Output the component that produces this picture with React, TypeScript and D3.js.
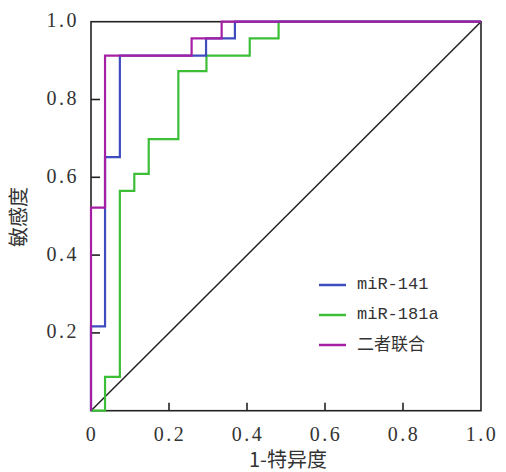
import React, { useRef, useEffect } from "react";
import * as d3 from "d3";

// ROC corner points (1-specificity, sensitivity); drawn with curveStepBefore
const fpr141 = [0, 0.036, 0.074, 0.295, 0.369, 1];
const tpr141 = [0, 0.217, 0.652, 0.913, 0.957, 1];

const fpr181a = [0, 0.036, 0.074, 0.111, 0.148, 0.224, 0.296, 0.407, 0.481, 1];
const tpr181a = [0, 0, 0.087, 0.565, 0.609, 0.698, 0.873, 0.913, 0.957, 1];

const fprCombined = [0, 0.036, 0.258, 0.335, 1];
const tprCombined = [0, 0.522, 0.913, 0.957, 1];

const seriesNames = ["miR-141", "miR-181a", "二者联合"];
const seriesColors = ["#3f4cc0", "#3cbf37", "#a51fa5"];

const tickValues = [0, 0.2, 0.4, 0.6, 0.8, 1.0];
const xTickLabels = ["0", "0.2", "0.4", "0.6", "0.8", "1.0"];
const yTickLabels = ["", "0.2", "0.4", "0.6", "0.8", "1.0"];

export default function App() {
  const ref = useRef<SVGSVGElement>(null);

  useEffect(() => {
    const svg = d3.select(ref.current);
    svg.selectAll("*").remove();

    const left = 91, right = 481, top = 21.7, bottom = 410.7;
    const x = d3.scaleLinear().domain([0, 1]).range([left, right]);
    const y = d3.scaleLinear().domain([0, 1]).range([bottom, top]);

    const serif = "'Liberation Serif', 'DejaVu Serif', serif";
    const cjk = "'Noto Sans CJK SC', sans-serif";

    // frame
    svg.append("rect")
      .attr("x", left).attr("y", top)
      .attr("width", right - left).attr("height", bottom - top)
      .attr("fill", "none").attr("stroke", "#222").attr("stroke-width", 1.6);

    // inward ticks
    tickValues.slice(1, -1).forEach((t) => {
      svg.append("line")
        .attr("x1", x(t)).attr("x2", x(t))
        .attr("y1", bottom).attr("y2", bottom - 8)
        .attr("stroke", "#222").attr("stroke-width", 1.6);
      svg.append("line")
        .attr("x1", left).attr("x2", left + 9)
        .attr("y1", y(t)).attr("y2", y(t))
        .attr("stroke", "#222").attr("stroke-width", 1.6);
    });

    // tick labels
    svg.append("g")
      .selectAll("text")
      .data(tickValues)
      .join("text")
      .attr("x", (d) => x(d) + 1)
      .attr("y", bottom + 30)
      .attr("text-anchor", "middle")
      .style("font-family", serif)
      .style("font-size", "20px")
      .style("letter-spacing", "2.5px")
      .attr("fill", "#333")
      .text((d, i) => xTickLabels[i]);

    svg.append("g")
      .selectAll("text")
      .data(tickValues)
      .join("text")
      .attr("x", 79)
      .attr("y", (d) => y(d) + 1)
      .attr("text-anchor", "end")
      .attr("dominant-baseline", "middle")
      .style("font-family", serif)
      .style("font-size", "20px")
      .style("letter-spacing", "2.5px")
      .attr("fill", "#333")
      .text((d, i) => yTickLabels[i]);

    // axis titles
    svg.append("text")
      .attr("x", 288).attr("y", 467)
      .attr("text-anchor", "middle")
      .style("font-family", cjk)
      .style("font-size", "20px")
      .attr("fill", "#333")
      .text("1-特异度");

    svg.append("text")
      .attr("x", 21).attr("y", 217)
      .attr("text-anchor", "middle")
      .attr("dominant-baseline", "middle")
      .attr("transform", "rotate(-90, 21, 217)")
      .style("font-family", cjk)
      .style("font-size", "20px")
      .attr("fill", "#333")
      .text("敏感度");

    // reference diagonal
    svg.append("line")
      .attr("x1", x(0)).attr("y1", y(0))
      .attr("x2", x(1)).attr("y2", y(1))
      .attr("stroke", "#222").attr("stroke-width", 1.5);

    const line = d3.line<[number, number]>()
      .x((d) => x(d[0]))
      .y((d) => y(d[1]))
      .curve(d3.curveStepBefore);

    const series: [number, number][][] = [
      fpr141.map((v, i) => [v, tpr141[i]]),
      fpr181a.map((v, i) => [v, tpr181a[i]]),
      fprCombined.map((v, i) => [v, tprCombined[i]]),
    ];

    [1, 0, 2].forEach((k) => {
      svg.append("path")
        .attr("d", line(series[k]))
        .attr("fill", "none")
        .attr("stroke", seriesColors[k])
        .attr("stroke-width", 2.2);
    });

    // legend
    const lg = svg.append("g").attr("transform", "translate(319,285)");
    seriesNames.forEach((name, i) => {
      lg.append("line")
        .attr("x1", 0).attr("x2", 27)
        .attr("y1", i * 30).attr("y2", i * 30)
        .attr("stroke", seriesColors[i]).attr("stroke-width", 2.5);
      lg.append("text")
        .attr("x", 38).attr("y", i * 30)
        .attr("dominant-baseline", "middle")
        .style("font-family", i === 2 ? cjk : "'Liberation Mono', monospace")
        .style("font-size", "17px")
        .attr("fill", "#333")
        .text(name);
    });
  }, []);

  return (
    <svg
      ref={ref}
      width={506}
      height={472}
      style={{ position: "absolute", left: 0, top: 0, background: "#fff" }}
    ></svg>
  );
}
